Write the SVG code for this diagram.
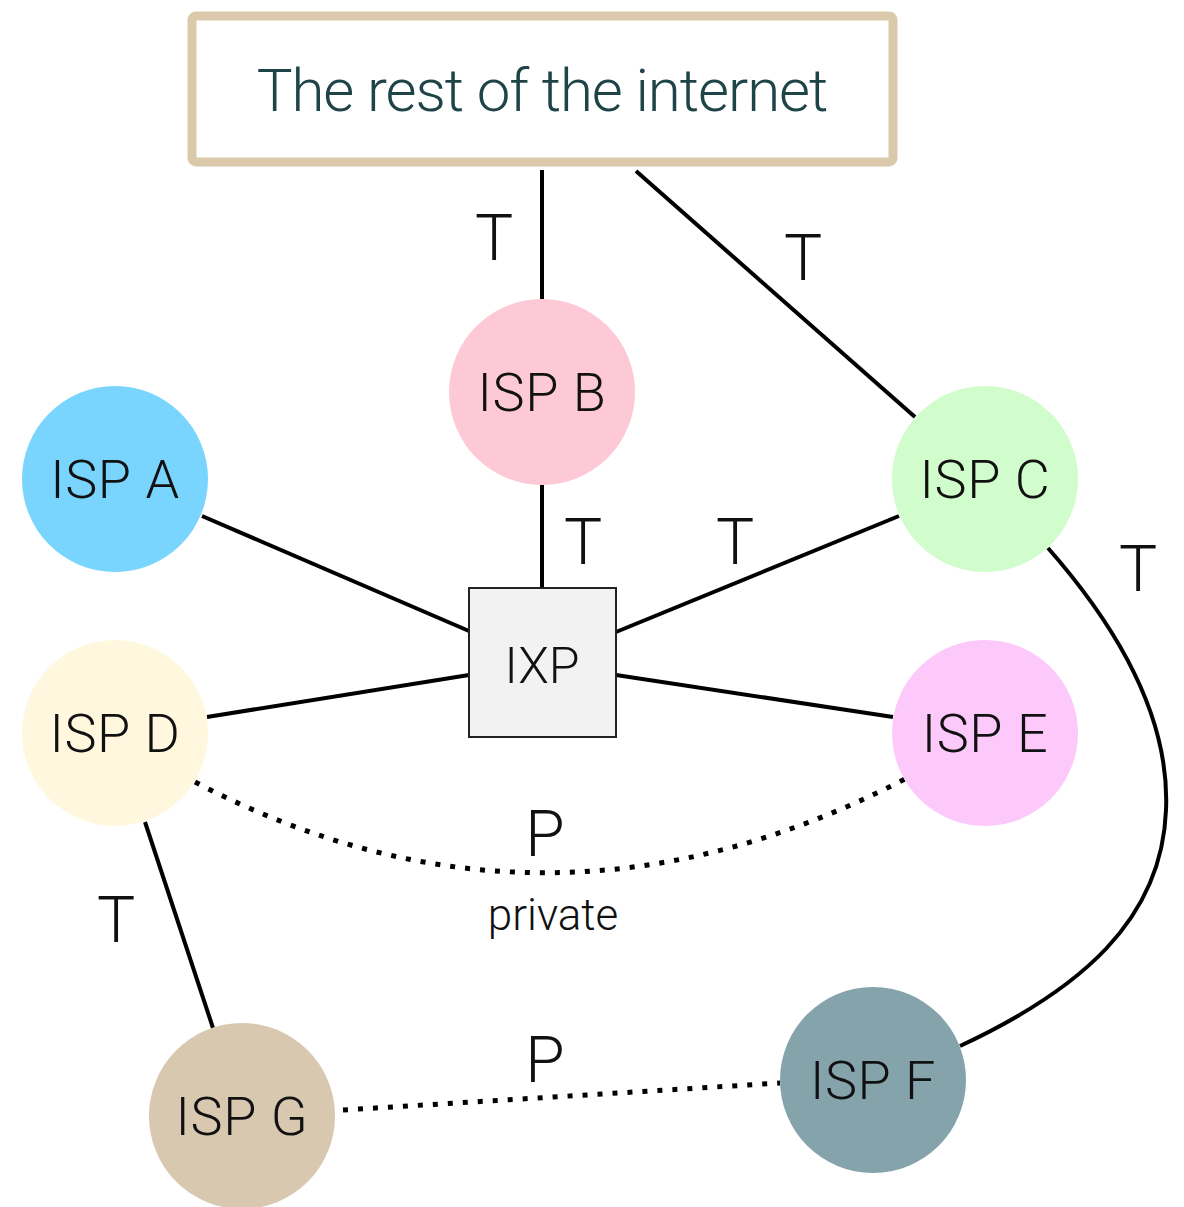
<svg xmlns="http://www.w3.org/2000/svg" width="1184" height="1207" viewBox="0 0 1184 1207">
  <style>
    text { font-family: Roboto, "Liberation Sans", sans-serif; font-weight: 300; fill: #111; text-anchor: middle; }
    .node-label { font-size: 54px; letter-spacing: 0.6px; }
    .edge-label { font-size: 64px; }
    .link { fill: none; stroke: #000; stroke-width: 4; }
    .peer { fill: none; stroke: #000; stroke-width: 5; stroke-dasharray: 5 10; }
  </style>
  <rect width="1184" height="1207" fill="#fff"/>

  <!-- connectors -->
  <g id="connectors">
    <line class="link" x1="542" y1="170" x2="542" y2="299"/>
    <line class="link" x1="636" y1="171" x2="915" y2="417"/>
    <line class="link" x1="542" y1="485" x2="542" y2="588"/>
    <line class="link" x1="202" y1="516" x2="469" y2="631"/>
    <line class="link" x1="899" y1="516" x2="616" y2="632"/>
    <line class="link" x1="207" y1="717" x2="469" y2="675"/>
    <line class="link" x1="616" y1="675" x2="893" y2="717"/>
    <line class="link" x1="145" y1="822" x2="213" y2="1028"/>
    <path class="link" d="M1048,548 C1120,630 1170,720 1166,810 C1162,920 1080,990 960,1046"/>
    <path class="peer" d="M195,782 Q545,965 905,779"/>
    <line class="peer" x1="343" y1="1110" x2="780" y2="1083"/>
    <text class="edge-label" x="494" y="260">T</text>
    <text class="edge-label" x="803" y="280">T</text>
    <text class="edge-label" x="583" y="564">T</text>
    <text class="edge-label" x="735" y="564">T</text>
    <text class="edge-label" x="1138" y="591">T</text>
    <text class="edge-label" x="116" y="942">T</text>
    <text class="edge-label" x="545" y="856">P</text>
    <text x="553" y="930" style="font-size:44px">private</text>
    <text class="edge-label" x="545" y="1082">P</text>
  </g>

  <g id="internet">
    <rect x="192" y="16" width="701" height="146" rx="4" fill="#fff" stroke="#dbc9ac" stroke-width="9"/>
    <text x="542" y="111" style="font-size:60px; letter-spacing:-1.05px; fill:#1f4447">The rest of the internet</text>
  </g>

  <g id="isp-a">
    <circle cx="115" cy="479" r="93" fill="#79d5fd"/>
    <text class="node-label" x="115" y="498">ISP A</text>
  </g>
  <g id="isp-b">
    <circle cx="542" cy="392" r="93" fill="#fdc9d6"/>
    <text class="node-label" x="542" y="411">ISP B</text>
  </g>
  <g id="isp-c">
    <circle cx="985" cy="479" r="93" fill="#d1fccb"/>
    <text class="node-label" x="985" y="498">ISP C</text>
  </g>
  <g id="isp-d">
    <circle cx="115" cy="733" r="93" fill="#fff8df"/>
    <text class="node-label" x="115" y="752">ISP D</text>
  </g>
  <g id="isp-e">
    <circle cx="985" cy="733" r="93" fill="#fdc9fb"/>
    <text class="node-label" x="985" y="752">ISP E</text>
  </g>
  <g id="isp-f">
    <circle cx="873" cy="1080" r="93" fill="#84a3ab"/>
    <text class="node-label" x="873" y="1099">ISP F</text>
  </g>
  <g id="isp-g">
    <circle cx="242" cy="1116" r="93" fill="#d8c8b0"/>
    <text class="node-label" x="242" y="1135">ISP G</text>
  </g>
  <g id="ixp">
    <rect x="469" y="588" width="147" height="149" fill="#f2f2f2" stroke="#222" stroke-width="2"/>
    <text class="node-label" x="542" y="683" style="font-size:50px; letter-spacing:0">IXP</text>
  </g>
</svg>
